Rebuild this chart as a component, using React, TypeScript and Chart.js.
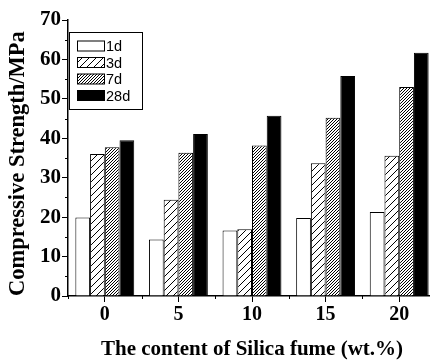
import React, { useEffect, useRef } from 'react';
import { Chart, registerables } from 'chart.js';

Chart.register(...registerables);

const categories = ['0', '5', '10', '15', '20'];
const seriesLabels = ['1d', '3d', '7d', '28d'];
const d1 = [19.9, 14.3, 16.6, 19.8, 21.3];
const d3 = [36.0, 24.4, 16.9, 33.7, 35.6];
const d7 = [37.7, 36.3, 38.2, 45.2, 53.0];
const d28 = [39.5, 41.1, 45.7, 55.8, 61.7];
const yMin = 0;
const yMax = 70;
const yStep = 10;
const yMinorStep = 5;
const xTitle = 'The content of Silica fume (wt.%)';
const yTitle = 'Compressive Strength/MPa';

const SERIF = '"Liberation Serif", "Times New Roman", serif';
const SANS = '"Liberation Sans", Arial, sans-serif';

function makeHatch(size: number, lw: number): CanvasPattern | string {
  const c = document.createElement('canvas');
  c.width = size;
  c.height = size;
  const g = c.getContext('2d');
  if (!g) return '#888';
  g.fillStyle = '#fff';
  g.fillRect(0, 0, size, size);
  g.strokeStyle = '#000';
  g.lineWidth = lw;
  g.beginPath();
  g.moveTo(0, size);
  g.lineTo(size, 0);
  g.moveTo(-size, size);
  g.lineTo(size, -size);
  g.moveTo(0, size * 2);
  g.lineTo(size * 2, 0);
  g.stroke();
  const p = g.createPattern(c, 'repeat');
  return p || '#888';
}

const minorTicksPlugin = {
  id: 'minorTicks',
  afterDraw(chart: any) {
    const { ctx } = chart;
    const x = chart.scales.x;
    const y = chart.scales.y;
    ctx.save();
    ctx.strokeStyle = '#000';
    ctx.lineWidth = 1;
    ctx.beginPath();
    for (let v = yMin + yMinorStep; v < yMax; v += yStep) {
      const py = Math.round(y.getPixelForValue(v)) + 0.5;
      ctx.moveTo(y.right - 3, py);
      ctx.lineTo(y.right, py);
    }
    const p0 = x.getPixelForValue(0);
    const p1 = x.getPixelForValue(1);
    const w = p1 - p0;
    for (let i = 0; i <= categories.length; i++) {
      const px = Math.round(p0 - w / 2 + i * w) + 0.5;
      ctx.moveTo(px, x.top);
      ctx.lineTo(px, x.top + 3);
    }
    ctx.stroke();
    ctx.restore();
  },
};

const boxLegendPlugin = {
  id: 'boxLegend',
  afterDraw(chart: any) {
    const { ctx } = chart;
    const left = 69.5;
    const top = 32.5;
    const bw = 73;
    const bh = 77;
    ctx.save();
    ctx.fillStyle = '#fff';
    ctx.fillRect(left, top, bw, bh);
    ctx.strokeStyle = '#000';
    ctx.lineWidth = 1;
    ctx.strokeRect(left, top, bw, bh);
    ctx.font = `14.5px ${SANS}`;
    ctx.textBaseline = 'middle';
    ctx.textAlign = 'left';
    chart.data.datasets.forEach((ds: any, i: number) => {
      const cy = 46 + i * 16.5;
      ctx.fillStyle = ds.backgroundColor;
      ctx.fillRect(77.5, cy - 5, 27, 10);
      ctx.strokeStyle = '#000';
      ctx.strokeRect(77.5, cy - 5, 27, 10);
      ctx.fillStyle = '#000';
      ctx.fillText(ds.label, 106, cy + 1);
    });
    ctx.restore();
  },
};

export default function App() {
  const ref = useRef<HTMLCanvasElement | null>(null);
  useEffect(() => {
    if (!ref.current) return;
    const ctx = ref.current.getContext('2d');
    if (!ctx) return;
    const fills: any[] = ['#ffffff', makeHatch(7, 1), makeHatch(3, 1), '#000000'];
    const series = [d1, d3, d7, d28];
    const chart = new Chart(ref.current, {
      type: 'bar',
      data: {
        labels: categories,
        datasets: series.map((data, i) => ({
          label: seriesLabels[i],
          data,
          backgroundColor: fills[i],
          borderColor: '#000',
          borderWidth: 1,
          categoryPercentage: 0.8,
          barPercentage: 1,
        })),
      },
      options: {
        animation: false,
        responsive: false,
        devicePixelRatio: 1,
        layout: { padding: { top: 20, left: 0, right: 0, bottom: 0 } },
        plugins: {
          legend: { display: false },
          tooltip: { enabled: false },
        },
        scales: {
          x: {
            offset: true,
            grid: {
              offset: false,
              drawOnChartArea: false,
              drawTicks: true,
              tickLength: 6,
              color: '#000',
            },
            border: { display: true, color: '#000', width: 1.5 },
            ticks: {
              color: '#000',
              padding: 1,
              font: { family: SERIF, size: 20, weight: 'bold' },
            },
            title: {
              display: true,
              text: xTitle,
              color: '#000',
              padding: { top: 0, bottom: 0 },
              font: { family: SERIF, size: 21, weight: 'bold' },
            },
            afterFit: (s: any) => {
              s.height = 66;
            },
          },
          y: {
            min: yMin,
            max: yMax,
            grid: {
              drawOnChartArea: false,
              drawTicks: true,
              tickLength: 6,
              color: '#000',
            },
            border: { display: true, color: '#000', width: 1.5 },
            ticks: {
              stepSize: yStep,
              color: '#000',
              padding: 1,
              font: { family: SERIF, size: 21, weight: 'bold' },
            },
            title: {
              display: true,
              text: yTitle,
              color: '#000',
              align: 'start',
              padding: { top: 5, bottom: 0 },
              font: { family: SERIF, size: 22.5, weight: 'bold' },
            },
            afterFit: (s: any) => {
              s.width = 68;
            },
          },
        },
      } as any,
      plugins: [minorTicksPlugin, boxLegendPlugin],
    });
    return () => chart.destroy();
  }, []);
  return (
    <div
      style={{
        position: 'fixed',
        left: 0,
        top: 0,
        width: 430,
        height: 362,
        overflow: 'hidden',
        background: '#fff',
      }}
    >
      <canvas ref={ref} width={436} height={362} style={{ display: 'block' }} />
    </div>
  );
}
